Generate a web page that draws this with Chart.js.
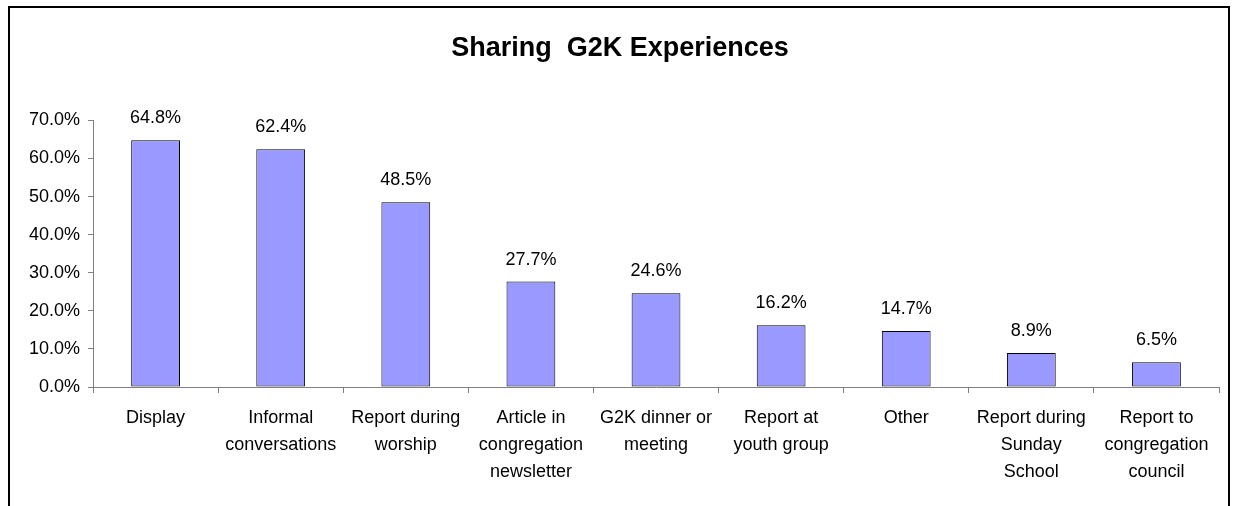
<!DOCTYPE html>
<html lang="en">
<head>
  <meta charset="UTF-8">
  <title>Sharing G2K Experiences</title>
  <script src="https://cdn.jsdelivr.net/npm/chart.js"></script>
  <style>
    body {
      margin: 0;
      background: #fff;
      font-family: "Liberation Sans", Arial, sans-serif;
    }
    #wrap {
      position: relative;
      width: 1235px;
      height: 506px;
      overflow: hidden;
    }
    #frame {
      position: absolute;
      left: 8px;
      top: 6px;
      width: 1222px;
      height: 600px;
      border: 2px solid #000;
      border-bottom: none;
      box-sizing: border-box;
    }
    canvas {
      position: absolute;
      left: 0;
      top: 0;
    }
  </style>
</head>
<body>
  <div id="wrap">
    <canvas id="g2kChart" width="1235" height="506"></canvas>
    <div id="frame"></div>
  </div>

  <script>
    const categories = [
      'Display',
      'Informal\nconversations',
      'Report during\nworship',
      'Article in\ncongregation\nnewsletter',
      'G2K dinner or\nmeeting',
      'Report at\nyouth group',
      'Other',
      'Report during\nSunday\nSchool',
      'Report to\ncongregation\ncouncil'
    ];
    const shares = [64.8, 62.4, 48.5, 27.7, 24.6, 16.2, 14.7, 8.9, 6.5];
    const yTicks = [0, 10, 20, 30, 40, 50, 60, 70];

    const fontFamily = '"Liberation Sans", Arial, sans-serif';

    // value labels above each bar
    const barLabels = {
      id: 'barLabels',
      afterDatasetsDraw(chart) {
        const ctx = chart.ctx;
        const meta = chart.getDatasetMeta(0);
        ctx.save();
        ctx.font = '18px ' + fontFamily;
        ctx.fillStyle = '#000';
        ctx.textAlign = 'center';
        ctx.textBaseline = 'alphabetic';
        meta.data.forEach((bar, i) => {
          ctx.fillText(shares[i].toFixed(1) + '%', bar.x, bar.y - 17);
        });
        ctx.restore();
      }
    };

    const ctx = document.getElementById('g2kChart').getContext('2d');
    new Chart(ctx, {
      type: 'bar',
      data: {
        labels: categories.map(c => c.split('\n')),
        datasets: [{
          data: shares,
          backgroundColor: '#9999FF',
          borderColor: '#000',
          borderWidth: 1,
          borderSkipped: false,
          categoryPercentage: 1,
          barPercentage: 0.39
        }]
      },
      options: {
        responsive: false,
        animation: false,
        layout: {
          padding: { left: 21, right: 16, top: 0, bottom: 8 }
        },
        plugins: {
          legend: { display: false },
          tooltip: { enabled: false },
          title: {
            display: true,
            text: 'Sharing  G2K Experiences',
            color: '#000',
            font: { family: fontFamily, size: 27, weight: 'bold', lineHeight: 1.2 },
            padding: { top: 32, bottom: 56 }
          }
        },
        scales: {
          x: {
            grid: {
              display: true,
              offset: true,
              drawOnChartArea: false,
              drawTicks: true,
              tickLength: 6,
              color: '#808080'
            },
            border: { color: '#808080', width: 1 },
            ticks: {
              color: '#000',
              padding: 12,
              maxRotation: 0,
              autoSkip: false,
              font: { family: fontFamily, size: 18, lineHeight: 1.5 }
            }
          },
          y: {
            min: 0,
            max: 70,
            afterBuildTicks(axis) {
              axis.ticks = yTicks.map(v => ({ value: v }));
            },
            grid: {
              display: true,
              drawOnChartArea: false,
              drawTicks: true,
              tickLength: 5,
              color: '#808080'
            },
            border: { color: '#808080', width: 1 },
            ticks: {
              color: '#000',
              padding: 8,
              font: { family: fontFamily, size: 18 },
              callback: v => v.toFixed(1) + '%'
            }
          }
        }
      },
      plugins: [barLabels]
    });
  </script>
</body>
</html>
